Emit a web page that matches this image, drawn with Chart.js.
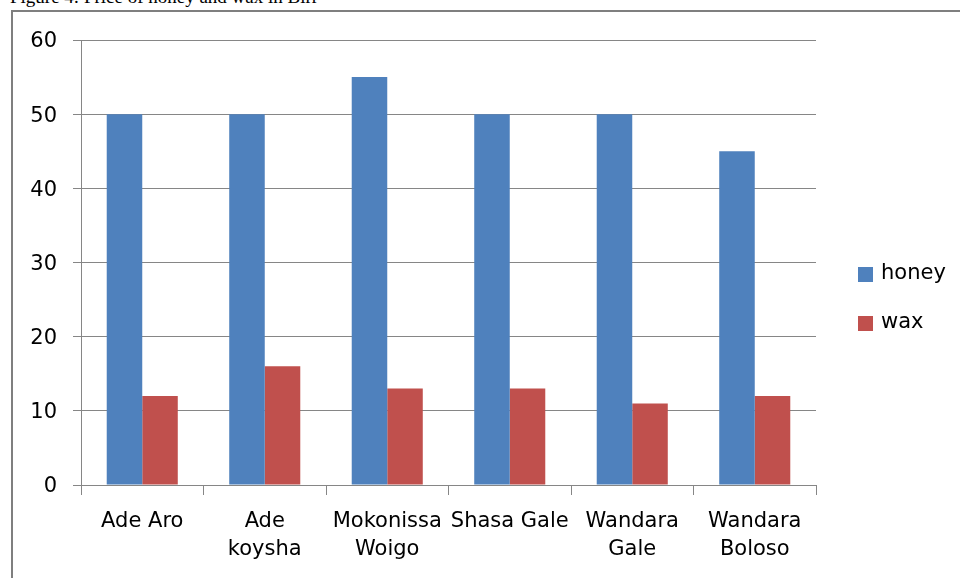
<!DOCTYPE html>
<html>
<head>
<meta charset="utf-8">
<script src="https://cdn.jsdelivr.net/npm/chart.js@4.4.1/dist/chart.umd.min.js"></script>
<style>
  html, body { margin: 0; padding: 0; background: #fff; width: 960px; height: 578px; overflow: hidden; }
  #wrap { position: relative; width: 960px; height: 578px; }
  #frame { position: absolute; left: 11px; top: 10px; width: 1200px; height: 1200px; border: 2px solid #7f7f7f; box-sizing: border-box; }
  #title { position: absolute; left: 10px; top: -14px; font-family: "Liberation Serif", "Times New Roman", serif; font-size: 19px; color: #000; white-space: nowrap; }
  canvas { position: absolute; left: 0; top: 0; }
</style>
</head>
<body>
<div id="wrap">
  <div id="title">Figure 4: Price of honey and wax in Birr</div>
  <div id="frame"></div>
  <canvas id="c" width="960" height="578"></canvas>
</div>
<script>
const categories = [["Ade Aro"], ["Ade", "koysha"], ["Mokonissa", "Woigo"], ["Shasa Gale"], ["Wandara", "Gale"], ["Wandara", "Boloso"]];
const seriesNames = ["honey", "wax"];
const honeyValues = [50, 50, 55, 50, 50, 45];
const waxValues = [12, 16, 13, 13, 11, 12];
const yTicks = [0, 10, 20, 30, 40, 50, 60];

const colors = ["#4F81BD", "#C0504D"];
const gridColor = "#868686";
const fontFamily = "'DejaVu Sans', sans-serif";
const fontSize = 21;

const legendPlugin = {
  id: "sideLegend",
  afterDraw(chart) {
    const ctx = chart.ctx;
    const items = chart.data.datasets;
    ctx.save();
    ctx.font = fontSize + "px " + fontFamily;
    ctx.textBaseline = "middle";
    ctx.textAlign = "left";
    const x0 = chart.chartArea.right + 42;
    const yStart = 274;
    const gap = 49;
    items.forEach((ds, i) => {
      const cy = yStart + i * gap;
      ctx.fillStyle = ds.backgroundColor;
      ctx.fillRect(x0, cy - 7, 15, 15);
      ctx.fillStyle = "#000";
      ctx.fillText(ds.label, x0 + 23, cy);
    });
    ctx.restore();
  }
};

new Chart(document.getElementById("c"), {
  type: "bar",
  data: {
    labels: categories,
    datasets: [
      { label: seriesNames[0], data: honeyValues, backgroundColor: colors[0], categoryPercentage: 0.58, barPercentage: 1.0 },
      { label: seriesNames[1], data: waxValues, backgroundColor: colors[1], categoryPercentage: 0.58, barPercentage: 1.0 }
    ]
  },
  options: {
    responsive: false,
    animation: false,
    devicePixelRatio: 1,
    layout: { padding: { top: 40, right: 144, bottom: 0, left: 0 } },
    plugins: { legend: { display: false }, tooltip: { enabled: false } },
    scales: {
      x: {
        grid: { offset: true, drawOnChartArea: false, drawTicks: true, tickLength: 10, color: gridColor },
        border: { color: gridColor },
        ticks: { color: "#000", font: { family: fontFamily, size: fontSize, lineHeight: 1.32 }, maxRotation: 0, autoSkip: false, padding: 13 },
        afterFit: s => { s.height = 93; }
      },
      y: {
        min: yTicks[0],
        max: yTicks[yTicks.length - 1],
        afterBuildTicks: s => { s.ticks = yTicks.map(v => ({ value: v })); },
        grid: { color: gridColor, tickLength: 8 },
        border: { color: gridColor },
        ticks: { color: "#000", font: { family: fontFamily, size: fontSize }, padding: 16, labelOffset: 2 },
        afterFit: s => { s.width = 81; }
      }
    }
  },
  plugins: [legendPlugin]
});
</script>
</body>
</html>
